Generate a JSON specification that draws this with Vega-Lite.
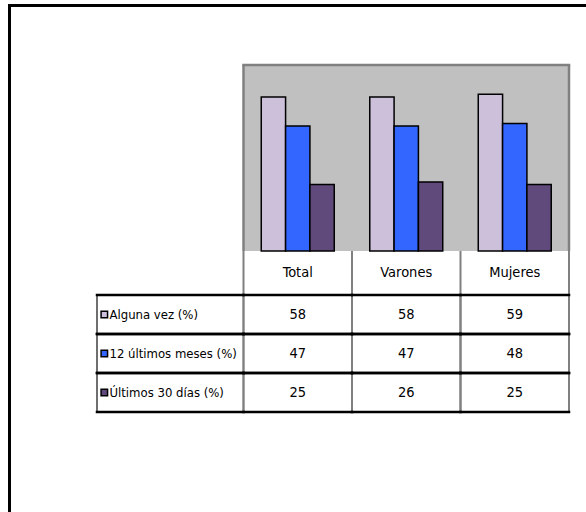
{
  "$schema": "https://vega.github.io/schema/vega-lite/v6.json",
  "width": 576.5,
  "height": 506.5,
  "autosize": {"type": "none"},
  "padding": {"left": 9.5, "top": 5.5, "right": 0, "bottom": 0},
  "background": "white",
  "config": {
    "view": {"stroke": null},
    "text": {"font": "Liberation Sans Narrow, Arial Narrow, DejaVu Sans Condensed, sans-serif", "fontSize": 14.5, "color": "black"}
  },
  "datasets": {
    "tabla": [
      {"serie": "Alguna vez (%)", "grupo": "Total", "valor": 58},
      {"serie": "Alguna vez (%)", "grupo": "Varones", "valor": 58},
      {"serie": "Alguna vez (%)", "grupo": "Mujeres", "valor": 59},
      {"serie": "12 últimos meses (%)", "grupo": "Total", "valor": 47},
      {"serie": "12 últimos meses (%)", "grupo": "Varones", "valor": 47},
      {"serie": "12 últimos meses (%)", "grupo": "Mujeres", "valor": 48},
      {"serie": "Últimos 30 días (%)", "grupo": "Total", "valor": 25},
      {"serie": "Últimos 30 días (%)", "grupo": "Varones", "valor": 26},
      {"serie": "Últimos 30 días (%)", "grupo": "Mujeres", "valor": 25}
    ],
    "grupos": [
      {"grupo": "Total", "fila": "Encabezado"},
      {"grupo": "Varones", "fila": "Encabezado"},
      {"grupo": "Mujeres", "fila": "Encabezado"}
    ]
  },
  "resolve": {"scale": {"x": "independent", "y": "independent"}},
  "layer": [
    {
      "data": {"values": [{}]},
      "mark": {"type": "rule", "color": "black", "strokeWidth": 3, "strokeCap": "square"},
      "encoding": {"x": {"datum": 0, "type": "quantitative", "scale": {"domain": [0, 1], "nice": false}, "axis": null}}
    },
    {
      "data": {"values": [{}]},
      "mark": {"type": "rule", "color": "black", "strokeWidth": 3, "strokeCap": "square"},
      "encoding": {"y": {"datum": 1, "type": "quantitative", "scale": {"domain": [0, 1], "nice": false}, "axis": null}}
    },
    {
      "data": {"values": [{}]},
      "mark": {"type": "rect", "fill": "#C0C0C0"},
      "encoding": {
        "x": {"datum": "Total", "type": "nominal", "bandPosition": 0, "scale": {"type": "band", "domain": ["Total", "Varones", "Mujeres"], "range": [234, 559.5], "paddingInner": 0, "paddingOuter": 0}, "axis": null},
        "x2": {"datum": "Mujeres", "bandPosition": 1},
        "y": {"datum": 70, "type": "quantitative", "scale": {"domain": [0, 70], "range": [245.5, 59.5], "nice": false, "zero": false}, "axis": null},
        "y2": {"datum": 0}
      }
    },
    {
      "data": {"name": "tabla"},
      "mark": {"type": "bar", "stroke": "black", "strokeWidth": 1.5},
      "encoding": {
        "x": {"field": "grupo", "type": "nominal", "scale": {"type": "band", "domain": ["Total", "Varones", "Mujeres"], "range": [234, 559.5], "paddingInner": 0, "paddingOuter": 0}, "axis": null},
        "xOffset": {"field": "serie", "type": "nominal", "scale": {"domain": ["Alguna vez (%)", "12 últimos meses (%)", "Últimos 30 días (%)"], "paddingInner": 0, "paddingOuter": 0.73}},
        "y": {"field": "valor", "type": "quantitative", "scale": {"domain": [0, 70], "range": [245.5, 59.5], "nice": false, "zero": false}, "axis": null},
        "color": {"field": "serie", "type": "nominal", "scale": {"domain": ["Alguna vez (%)", "12 últimos meses (%)", "Últimos 30 días (%)"], "range": ["#CCC0DA", "#3366FF", "#604A7B"]}, "legend": null}
      }
    },
    {
      "data": {"values": [{}]},
      "mark": {"type": "rule", "color": "#808080", "strokeWidth": 2.5, "strokeCap": "square"},
      "encoding": {
        "x": {"datum": "Total", "type": "nominal", "bandPosition": 0, "scale": {"type": "band", "domain": ["Total", "Varones", "Mujeres"], "range": [234, 559.5], "paddingInner": 0, "paddingOuter": 0}, "axis": null},
        "x2": {"datum": "Mujeres", "bandPosition": 1},
        "y": {"datum": 70, "type": "quantitative", "scale": {"domain": [0, 70], "range": [245.5, 59.5], "nice": false, "zero": false}, "axis": null}
      }
    },
    {
      "data": {"name": "grupos"},
      "transform": [{"filter": "datum.grupo == 'Total'"}],
      "mark": {"type": "rule", "color": "#808080", "strokeWidth": 2.5},
      "encoding": {
        "x": {"field": "grupo", "type": "nominal", "bandPosition": 0, "scale": {"type": "band", "domain": ["Total", "Varones", "Mujeres"], "range": [234, 559.5], "paddingInner": 0, "paddingOuter": 0}, "axis": null},
        "y": {"datum": 70, "type": "quantitative", "scale": {"domain": [0, 70], "range": [245.5, 59.5], "nice": false, "zero": false}, "axis": null},
        "y2": {"datum": 0}
      }
    },
    {
      "data": {"name": "grupos"},
      "transform": [{"filter": "datum.grupo == 'Mujeres'"}],
      "mark": {"type": "rule", "color": "#808080", "strokeWidth": 2.5},
      "encoding": {
        "x": {"field": "grupo", "type": "nominal", "bandPosition": 1, "scale": {"type": "band", "domain": ["Total", "Varones", "Mujeres"], "range": [234, 559.5], "paddingInner": 0, "paddingOuter": 0}, "axis": null},
        "y": {"datum": 70, "type": "quantitative", "scale": {"domain": [0, 70], "range": [245.5, 59.5], "nice": false, "zero": false}, "axis": null},
        "y2": {"datum": 0}
      }
    },
    {
      "data": {"name": "grupos"},
      "mark": {"type": "rect", "fillOpacity": 0, "stroke": "#808080", "strokeWidth": 2},
      "encoding": {
        "x": {"field": "grupo", "type": "nominal", "bandPosition": 0, "scale": {"type": "band", "domain": ["Total", "Varones", "Mujeres"], "range": [234, 559.5], "paddingInner": 0, "paddingOuter": 0}, "axis": null},
        "x2": {"field": "grupo", "bandPosition": 0},
        "y": {"field": "fila", "type": "nominal", "scale": {"type": "band", "domain": ["Encabezado"], "range": [245.5, 289.5], "paddingInner": 0, "paddingOuter": 0}, "axis": null}
      }
    },
    {
      "data": {"name": "grupos"},
      "transform": [{"filter": "datum.grupo == 'Mujeres'"}],
      "mark": {"type": "rect", "fillOpacity": 0, "stroke": "#808080", "strokeWidth": 2},
      "encoding": {
        "x": {"field": "grupo", "type": "nominal", "bandPosition": 1, "scale": {"type": "band", "domain": ["Total", "Varones", "Mujeres"], "range": [234, 559.5], "paddingInner": 0, "paddingOuter": 0}, "axis": null},
        "x2": {"field": "grupo", "bandPosition": 1},
        "y": {"field": "fila", "type": "nominal", "scale": {"type": "band", "domain": ["Encabezado"], "range": [245.5, 289.5], "paddingInner": 0, "paddingOuter": 0}, "axis": null}
      }
    },
    {
      "data": {"name": "tabla"},
      "transform": [{"filter": "datum.grupo == 'Total'"}],
      "mark": {"type": "rect", "fillOpacity": 0, "stroke": "#404040", "strokeWidth": 1.5},
      "encoding": {
        "x": {"datum": "Serie", "type": "nominal", "scale": {"type": "band", "domain": ["Serie"], "range": [87.5, 234], "paddingInner": 0, "paddingOuter": 0}, "axis": null},
        "y": {"field": "serie", "type": "nominal", "scale": {"type": "band", "domain": ["Alguna vez (%)", "12 últimos meses (%)", "Últimos 30 días (%)"], "range": [289.5, 406.5], "paddingInner": 0, "paddingOuter": 0}, "axis": null}
      }
    },
    {
      "data": {"name": "tabla"},
      "mark": {"type": "rect", "fillOpacity": 0, "stroke": "#808080", "strokeWidth": 2},
      "encoding": {
        "x": {"field": "grupo", "type": "nominal", "scale": {"type": "band", "domain": ["Total", "Varones", "Mujeres"], "range": [234, 559.5], "paddingInner": 0, "paddingOuter": 0}, "axis": null},
        "y": {"field": "serie", "type": "nominal", "scale": {"type": "band", "domain": ["Alguna vez (%)", "12 últimos meses (%)", "Últimos 30 días (%)"], "range": [289.5, 406.5], "paddingInner": 0, "paddingOuter": 0}, "axis": null}
      }
    },
    {
      "data": {"name": "tabla"},
      "mark": {"type": "rule", "color": "black", "strokeWidth": 2.5, "strokeCap": "square"},
      "encoding": {
        "x": {"field": "grupo", "type": "nominal", "bandPosition": 0, "scale": {"type": "band", "domain": ["Total", "Varones", "Mujeres"], "range": [234, 559.5], "paddingInner": 0, "paddingOuter": 0}, "axis": null},
        "x2": {"field": "grupo", "bandPosition": 1},
        "y": {"field": "serie", "type": "nominal", "bandPosition": 0, "scale": {"type": "band", "domain": ["Alguna vez (%)", "12 últimos meses (%)", "Últimos 30 días (%)"], "range": [289.5, 406.5], "paddingInner": 0, "paddingOuter": 0}, "axis": null}
      }
    },
    {
      "data": {"name": "tabla"},
      "mark": {"type": "rule", "color": "black", "strokeWidth": 2.5, "strokeCap": "square"},
      "encoding": {
        "x": {"field": "grupo", "type": "nominal", "bandPosition": 0, "scale": {"type": "band", "domain": ["Total", "Varones", "Mujeres"], "range": [234, 559.5], "paddingInner": 0, "paddingOuter": 0}, "axis": null},
        "x2": {"field": "grupo", "bandPosition": 1},
        "y": {"field": "serie", "type": "nominal", "bandPosition": 1, "scale": {"type": "band", "domain": ["Alguna vez (%)", "12 últimos meses (%)", "Últimos 30 días (%)"], "range": [289.5, 406.5], "paddingInner": 0, "paddingOuter": 0}, "axis": null}
      }
    },
    {
      "data": {"name": "tabla"},
      "transform": [{"filter": "datum.grupo == 'Total'"}],
      "mark": {"type": "rule", "color": "black", "strokeWidth": 2.5, "strokeCap": "square"},
      "encoding": {
        "x": {"datum": "Serie", "type": "nominal", "bandPosition": 0, "scale": {"type": "band", "domain": ["Serie"], "range": [87.5, 234], "paddingInner": 0, "paddingOuter": 0}, "axis": null},
        "x2": {"datum": "Serie", "bandPosition": 1},
        "y": {"field": "serie", "type": "nominal", "bandPosition": 0, "scale": {"type": "band", "domain": ["Alguna vez (%)", "12 últimos meses (%)", "Últimos 30 días (%)"], "range": [289.5, 406.5], "paddingInner": 0, "paddingOuter": 0}, "axis": null}
      }
    },
    {
      "data": {"name": "tabla"},
      "transform": [{"filter": "datum.grupo == 'Total'"}],
      "mark": {"type": "rule", "color": "black", "strokeWidth": 2.5, "strokeCap": "square"},
      "encoding": {
        "x": {"datum": "Serie", "type": "nominal", "bandPosition": 0, "scale": {"type": "band", "domain": ["Serie"], "range": [87.5, 234], "paddingInner": 0, "paddingOuter": 0}, "axis": null},
        "x2": {"datum": "Serie", "bandPosition": 1},
        "y": {"field": "serie", "type": "nominal", "bandPosition": 1, "scale": {"type": "band", "domain": ["Alguna vez (%)", "12 últimos meses (%)", "Últimos 30 días (%)"], "range": [289.5, 406.5], "paddingInner": 0, "paddingOuter": 0}, "axis": null}
      }
    },
    {
      "data": {"name": "grupos"},
      "mark": {"type": "text", "align": "center"},
      "encoding": {
        "x": {"field": "grupo", "type": "nominal", "scale": {"type": "band", "domain": ["Total", "Varones", "Mujeres"], "range": [234, 559.5], "paddingInner": 0, "paddingOuter": 0}, "axis": null},
        "y": {"field": "fila", "type": "nominal", "scale": {"type": "band", "domain": ["Encabezado"], "range": [245.5, 289.5], "paddingInner": 0, "paddingOuter": 0}, "axis": null},
        "text": {"field": "grupo"}
      }
    },
    {
      "data": {"name": "tabla"},
      "mark": {"type": "text", "align": "center"},
      "encoding": {
        "x": {"field": "grupo", "type": "nominal", "scale": {"type": "band", "domain": ["Total", "Varones", "Mujeres"], "range": [234, 559.5], "paddingInner": 0, "paddingOuter": 0}, "axis": null},
        "y": {"field": "serie", "type": "nominal", "scale": {"type": "band", "domain": ["Alguna vez (%)", "12 últimos meses (%)", "Últimos 30 días (%)"], "range": [289.5, 406.5], "paddingInner": 0, "paddingOuter": 0}, "axis": null},
        "text": {"field": "valor"}
      }
    },
    {
      "data": {"name": "tabla"},
      "transform": [{"filter": "datum.grupo == 'Total'"}],
      "mark": {"type": "point", "shape": "square", "filled": true, "size": 42, "stroke": "black", "strokeWidth": 1.5, "opacity": 1},
      "encoding": {
        "x": {"datum": "Serie", "type": "nominal", "bandPosition": 0.05, "scale": {"type": "band", "domain": ["Serie"], "range": [87.5, 234], "paddingInner": 0, "paddingOuter": 0}, "axis": null},
        "y": {"field": "serie", "type": "nominal", "scale": {"type": "band", "domain": ["Alguna vez (%)", "12 últimos meses (%)", "Últimos 30 días (%)"], "range": [289.5, 406.5], "paddingInner": 0, "paddingOuter": 0}, "axis": null},
        "color": {"field": "serie", "type": "nominal", "scale": {"domain": ["Alguna vez (%)", "12 últimos meses (%)", "Últimos 30 días (%)"], "range": ["#CCC0DA", "#3366FF", "#604A7B"]}, "legend": null}
      }
    },
    {
      "data": {"name": "tabla"},
      "transform": [{"filter": "datum.grupo == 'Total'"}],
      "mark": {"type": "text", "align": "left", "fontSize": 13},
      "encoding": {
        "x": {"datum": "Serie", "type": "nominal", "bandPosition": 0.085, "scale": {"type": "band", "domain": ["Serie"], "range": [87.5, 234], "paddingInner": 0, "paddingOuter": 0}, "axis": null},
        "y": {"field": "serie", "type": "nominal", "scale": {"type": "band", "domain": ["Alguna vez (%)", "12 últimos meses (%)", "Últimos 30 días (%)"], "range": [289.5, 406.5], "paddingInner": 0, "paddingOuter": 0}, "axis": null},
        "text": {"field": "serie"}
      }
    }
  ]
}
